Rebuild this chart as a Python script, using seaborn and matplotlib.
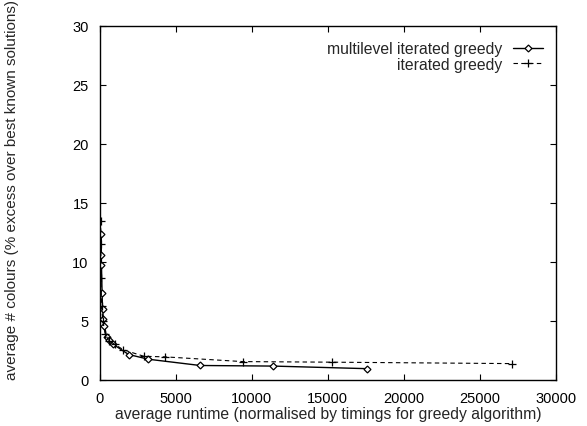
import pandas as pd
import matplotlib
matplotlib.use('Agg')
import matplotlib.pyplot as plt
import seaborn as sns

# multilevel iterated greedy
ml_runtime = [100, 100, 110, 150, 180, 240, 300, 450, 600, 900, 1900, 3200, 6600, 11400, 17600]
ml_colours = [12.4, 10.6, 9.7, 7.4, 6.0, 5.2, 4.6, 3.6, 3.4, 3.0, 2.15, 1.75, 1.22, 1.17, 0.95]

# iterated greedy
ig_runtime = [60, 70, 80, 120, 200, 350, 600, 1000, 1550, 2900, 4300, 9400, 15300, 27100]
ig_colours = [13.5, 11.5, 8.6, 6.3, 5.0, 3.9, 3.3, 3.0, 2.55, 2.0, 1.95, 1.55, 1.5, 1.38]

sns.set_theme(style='ticks')
plt.rcParams['font.family'] = ['Liberation Sans', 'DejaVu Sans']

fig = plt.figure(figsize=(5.87, 4.27), dpi=100)
ax = fig.add_axes([0.170, 0.108, 0.777, 0.829])

ml = pd.DataFrame({'x': ml_runtime, 'y': ml_colours})
ig = pd.DataFrame({'x': ig_runtime, 'y': ig_colours})

sns.lineplot(data=ml, x='x', y='y', ax=ax, estimator=None, sort=False,
             color='black', lw=1, marker='D', markersize=3.5,
             markerfacecolor='white', markeredgecolor='black', markeredgewidth=0.9,
             label='multilevel iterated greedy')
sns.lineplot(data=ig, x='x', y='y', ax=ax, estimator=None, sort=False,
             color='black', lw=0.8, marker='+', markersize=6,
             markeredgecolor='black', markeredgewidth=0.9,
             linestyle=(0, (4, 3)), label='iterated greedy')

ax.set_xlim(0, 30000)
ax.set_ylim(0, 30)
ax.set_xticks(range(0, 30001, 5000))
ax.set_yticks(range(0, 31, 5))
ax.tick_params(direction='in', length=4, width=0.8, top=True, right=True,
               labelsize=10.5, colors='black')
ax.tick_params(axis='x', pad=8)
ax.tick_params(axis='y', pad=8)
for s in ax.spines.values():
    s.set_visible(True)
    s.set_linewidth(1)
    s.set_color('black')

ax.set_xlabel('average runtime (normalised by timings for greedy algorithm)', fontsize=11.3)
ax.set_ylabel('average # colours (% excess over best known solutions)', fontsize=11)
ax.xaxis.set_label_coords(0.5, -0.074)
ax.yaxis.set_label_coords(-0.193, 0.54)
ax.yaxis.label.set_va('center')

ax.legend(loc='upper right', frameon=False, markerfirst=False, fontsize=11.3,
          handlelength=1.9, handletextpad=0.65, labelspacing=0.05,
          bbox_to_anchor=(0.985, 0.975), borderaxespad=0)

fig.savefig('out.png', dpi=100)
